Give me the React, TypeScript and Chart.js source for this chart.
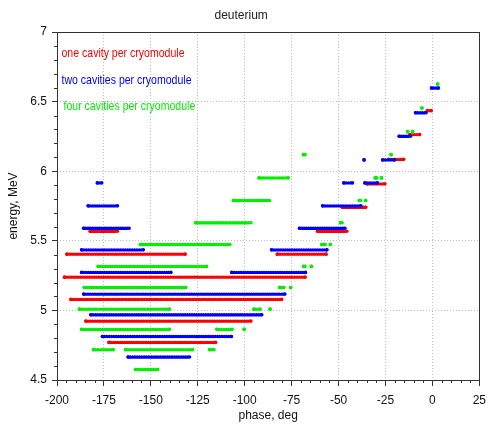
import React, { useEffect, useRef } from 'react';
import { Chart, registerables } from 'chart.js';

Chart.register(...registerables);

// [energy (MeV), phase start (deg), phase end (deg)]
const redSegments: [number, number, number][] = [
  [6.435, -2.7, -0.6],
  [6.263, -12.0, -6.8],
  [6.085, -23.3, -15.3],
  [5.909, -34.8, -25.3],
  [5.741, -48.0, -35.5],
  [5.569, -61.2, -45.6],
  [5.569, -182.3, -167.8],
  [5.404, -194.7, -131.7],
  [5.404, -82.6, -56.6],
  [5.239, -196.0, -67.8],
  [5.079, -192.6, -80.3],
  [4.923, -184.6, -96.7],
  [4.770, -172.3, -115.5],
];

const blueSegments: [number, number, number][] = [
  [6.598, -0.5, 3.2],
  [6.420, -9.0, -3.4],
  [6.251, -17.7, -11.7],
  [6.081, -26.5, -20.2],
  [6.081, -36.4, -36.4],
  [5.916, -178.5, -176.2],
  [5.916, -47.2, -42.6],
  [5.916, -36.0, -29.3],
  [5.751, -183.4, -167.8],
  [5.751, -58.5, -38.1],
  [5.590, -185.8, -161.6],
  [5.590, -70.8, -46.6],
  [5.435, -186.9, -154.0],
  [5.435, -85.7, -56.2],
  [5.273, -186.9, -139.3],
  [5.273, -106.9, -67.6],
  [5.117, -185.8, -78.6],
  [4.969, -182.0, -90.9],
  [4.813, -175.8, -107.1],
  [4.665, -162.1, -129.4],
];

const greenSegments: [number, number, number][] = [
  [6.626, 2.8, 2.8],
  [6.454, -5.6, -5.6],
  [6.284, -13.2, -13.2],
  [6.284, -10.6, -10.6],
  [6.119, -22.0, -22.0],
  [6.119, -68.7, -67.8],
  [5.952, -92.4, -76.8],
  [5.952, -30.5, -29.6],
  [5.952, -27.1, -27.1],
  [5.789, -106.0, -86.8],
  [5.789, -39.0, -38.3],
  [5.789, -35.6, -35.6],
  [5.630, -126.1, -96.7],
  [5.630, -49.0, -48.1],
  [5.473, -155.6, -107.9],
  [5.473, -59.0, -57.1],
  [5.473, -54.4, -54.4],
  [5.316, -178.1, -120.3],
  [5.316, -68.6, -67.9],
  [5.316, -64.5, -64.5],
  [5.165, -185.5, -131.4],
  [5.165, -81.4, -79.1],
  [5.165, -75.5, -75.5],
  [5.009, -188.1, -140.1],
  [5.009, -95.1, -91.8],
  [5.009, -86.5, -86.5],
  [4.864, -186.9, -140.1],
  [4.864, -114.8, -106.7],
  [4.864, -100.3, -100.3],
  [4.718, -180.6, -170.0],
  [4.718, -163.5, -127.8],
  [4.718, -118.7, -116.4],
  [4.575, -158.2, -146.3],
];

const seriesLabels = [
  'one cavity per cryomodule',
  'two cavities per cryomodule',
  'four cavities per cryomodule',
];
const seriesColors = ['#ff0000', '#0000ff', '#00f000'];
const chartTitle = 'deuterium';
const xTitle = 'phase, deg';
const yTitle = 'energy, MeV';

const FONT = "'Liberation Sans', Arial, sans-serif";

function toPoints(segs: [number, number, number][]) {
  const pts: { x: number; y: number | null }[] = [];
  segs.forEach(([y, x0, x1]) => {
    pts.push({ x: x0, y });
    pts.push({ x: x1, y });
    pts.push({ x: x1, y: null });
  });
  return pts;
}

const framePlugin = {
  id: 'frameAndMinorTicks',
  afterDraw(chart: any) {
    const { ctx, chartArea } = chart;
    const xs = chart.scales.x;
    const ys = chart.scales.y;
    ctx.save();
    ctx.strokeStyle = '#333';
    ctx.lineWidth = 1;
    ctx.setLineDash([]);
    ctx.strokeRect(
      Math.round(chartArea.left) + 0.5,
      Math.round(chartArea.top) + 0.5,
      Math.round(chartArea.right - chartArea.left),
      Math.round(chartArea.bottom - chartArea.top)
    );
    ctx.beginPath();
    for (let v = -200; v <= 25; v += 5) {
      if (v % 25 === 0) continue;
      const px = Math.round(xs.getPixelForValue(v)) + 0.5;
      ctx.moveTo(px, chartArea.bottom);
      ctx.lineTo(px, chartArea.bottom + 3);
    }
    for (let i = 0; i <= 25; i++) {
      if (i % 5 === 0) continue;
      const v = 4.5 + i * 0.1;
      const py = Math.round(ys.getPixelForValue(v)) + 0.5;
      ctx.moveTo(chartArea.left - 3, py);
      ctx.lineTo(chartArea.left, py);
    }
    ctx.stroke();
    ctx.restore();
  },
};

const legendTextPlugin = {
  id: 'legendText',
  afterDraw(chart: any) {
    const { ctx, chartArea } = chart;
    const offsets = [
      [4.5, 21],
      [4.5, 48],
      [6.5, 74],
    ];
    ctx.save();
    ctx.font = `13px ${FONT}`;
    ctx.textBaseline = 'middle';
    ctx.textAlign = 'left';
    const squeeze = 123 / ctx.measureText(chart.data.datasets[0].label).width;
    chart.data.datasets.forEach((ds: any, i: number) => {
      ctx.save();
      ctx.translate(chartArea.left + offsets[i][0], chartArea.top + offsets[i][1]);
      ctx.scale(squeeze, 1);
      ctx.fillStyle = ds.borderColor;
      ctx.fillText(ds.label, 0, 0);
      ctx.restore();
    });
    ctx.restore();
  },
};

export default function App() {
  const canvasRef = useRef<HTMLCanvasElement | null>(null);

  useEffect(() => {
    if (!canvasRef.current) return;
    const segsList = [redSegments, blueSegments, greenSegments];
    const datasets = segsList.map((segs, i) => ({
      label: seriesLabels[i],
      data: toPoints(segs),
      showLine: true,
      spanGaps: false,
      borderColor: seriesColors[i],
      backgroundColor: seriesColors[i],
      borderWidth: 3.4,
      borderDash: [0, 2.3],
      borderCapStyle: 'round' as const,
      pointRadius: 1.8,
      pointBorderWidth: 0,
      pointBackgroundColor: seriesColors[i],
      order: 3 - i,
    }));

    const tickFont = { family: FONT, size: 12 };
    const chart = new Chart(canvasRef.current, {
      type: 'scatter',
      data: { datasets },
      options: {
        responsive: true,
        maintainAspectRatio: false,
        animation: false,
        events: [],
        layout: { padding: { left: 0, right: 10.7, top: 0, bottom: 0 } },
        plugins: {
          legend: { display: false },
          tooltip: { enabled: false },
          title: {
            display: true,
            text: chartTitle,
            color: '#222',
            font: { family: FONT, size: 12, weight: 'normal' },
            padding: { top: 8, bottom: 9.6 },
          },
        },
        scales: {
          x: {
            type: 'linear',
            min: -200,
            max: 25,
            ticks: {
              stepSize: 25,
              color: '#111',
              font: tickFont,
              padding: 7,
              autoSkip: false,
              maxRotation: 0,
              callback: (v: any) => String(Number(v)),
            },
            grid: { color: '#bdbdbd', lineWidth: 1, tickColor: '#333', tickLength: 6 },
            border: { display: false, dash: [1, 2] },
            title: {
              display: true,
              text: xTitle,
              color: '#111',
              font: { family: FONT, size: 12 },
              padding: { top: 4, bottom: 9 },
            },
            afterFit: (s: any) => {
              s.height = 52;
            },
          },
          y: {
            type: 'linear',
            min: 4.5,
            max: 7,
            ticks: {
              stepSize: 0.5,
              color: '#111',
              font: tickFont,
              padding: 5,
              callback: (v: any) => String(Number(v)),
            },
            grid: { color: '#bdbdbd', lineWidth: 1, tickColor: '#333', tickLength: 5 },
            border: { display: false, dash: [1, 2] },
            title: {
              display: true,
              text: yTitle,
              color: '#111',
              font: { family: FONT, size: 12 },
              padding: { top: 6, bottom: 4 },
            },
            afterFit: (s: any) => {
              s.width = 57;
            },
          },
        },
      },
      plugins: [framePlugin, legendTextPlugin],
    });
    return () => chart.destroy();
  }, []);

  return (
    <div style={{ position: 'fixed', left: 0, top: 0, width: 493, height: 432, background: '#fff' }}>
      <canvas ref={canvasRef} />
    </div>
  );
}
